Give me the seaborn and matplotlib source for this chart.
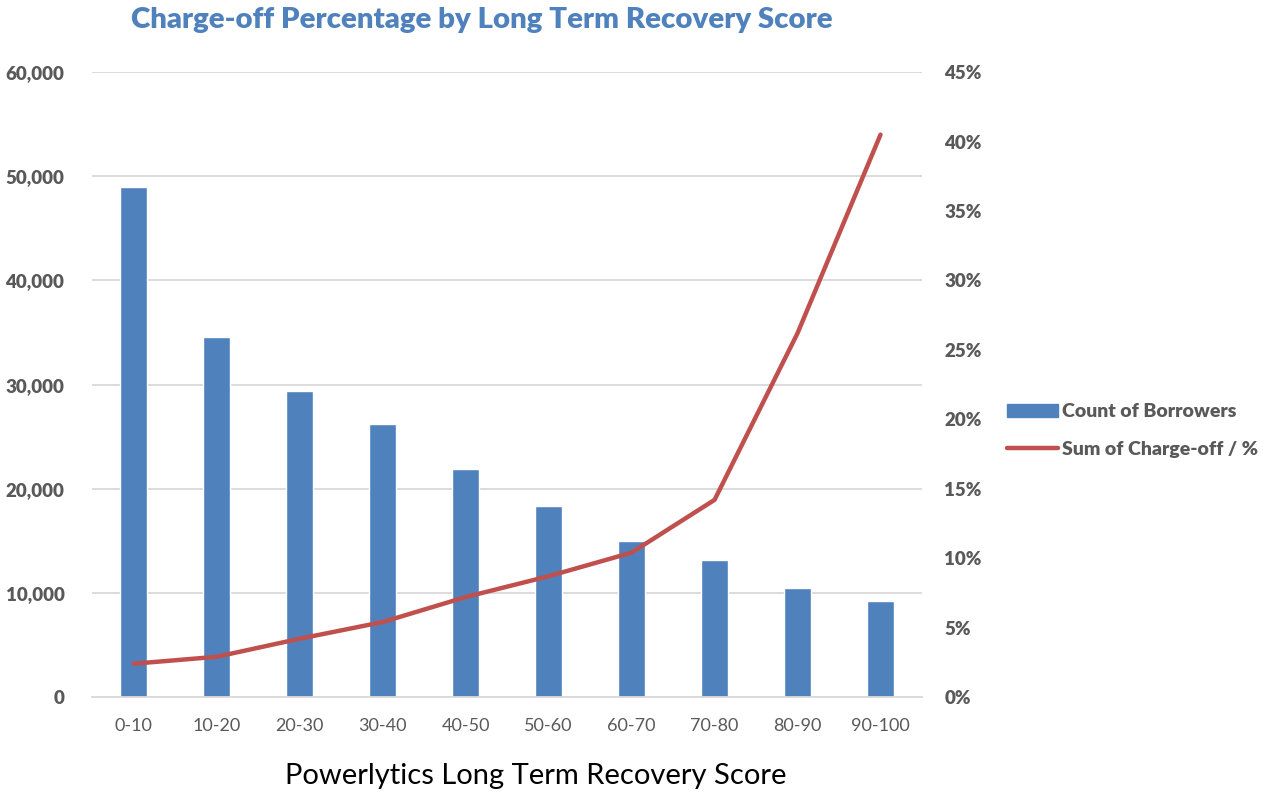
import numpy as np
import pandas as pd
import matplotlib
matplotlib.use("Agg")
import matplotlib.pyplot as plt
import seaborn as sns
from matplotlib.ticker import FuncFormatter, FixedLocator
from matplotlib.patches import Patch
from matplotlib.lines import Line2D

categories = ["0-10", "10-20", "20-30", "30-40", "40-50", "50-60", "60-70", "70-80", "80-90", "90-100"]
borrowers = [49000, 34600, 29400, 26200, 21900, 18300, 15000, 13200, 10500, 9200]
chargeoff_pct = [2.4, 2.9, 4.2, 5.4, 7.2, 8.7, 10.4, 14.2, 26.2, 40.5]
left_ticks = [0, 10000, 20000, 30000, 40000, 50000, 60000]
right_ticks = [0, 5, 10, 15, 20, 25, 30, 35, 40, 45]

sns.set_theme(style="white")
plt.rcParams['font.family'] = ['Lato', 'DejaVu Sans']

BLUE = "#4F81BD"
RED = "#C0504D"
GREY = "#595959"

fig = plt.figure(figsize=(12.63, 7.93), dpi=100)
ax = fig.add_axes([0.073, 0.121, 0.657, 0.788])

df = pd.DataFrame({"cat": categories, "count": borrowers, "pct": chargeoff_pct})
sns.barplot(data=df, x="cat", y="count", color=BLUE, saturation=1, width=0.33, ax=ax, zorder=2)
ax.set_ylim(0, 60000)
ax.set_xlim(-0.5, len(categories) - 0.5)
ax.yaxis.set_major_locator(FixedLocator(left_ticks))
ax.yaxis.set_major_formatter(FuncFormatter(lambda v, p: f"{int(v):,}"))
ax.grid(axis="y", color="#D9D9D9", linewidth=1.3, zorder=0)
ax.set_axisbelow(True)
for s in ["top", "right", "left"]:
    ax.spines[s].set_visible(False)
ax.spines["bottom"].set_color("#D9D9D9")
ax.spines["bottom"].set_linewidth(1.3)
ax.tick_params(axis="y", length=0, pad=20, labelsize=13.5, labelcolor=GREY)
ax.tick_params(axis="x", length=0, pad=15, labelsize=13, labelcolor=GREY)
for t in ax.get_yticklabels():
    t.set_fontweight("heavy")
ax.set_ylabel("")
ax.set_xlabel("")
fig.text(536 / 1263, 1 - 776 / 793, "Powerlytics Long Term Recovery Score", ha="center", va="center",
         fontsize=21, color="black")

ax2 = ax.twinx()
sns.lineplot(x=np.arange(len(categories)), y=chargeoff_pct, color=RED, linewidth=3.2, ax=ax2,
             solid_capstyle="round", solid_joinstyle="round")
ax2.set_ylim(0, 45)
ax2.yaxis.set_major_locator(FixedLocator(right_ticks))
ax2.yaxis.set_major_formatter(FuncFormatter(lambda v, p: f"{int(round(v))}%"))
for s in ["top", "right", "left", "bottom"]:
    ax2.spines[s].set_visible(False)
ax2.tick_params(axis="y", length=0, pad=16, labelsize=13.5, labelcolor=GREY)
for t in ax2.get_yticklabels():
    t.set_fontweight("heavy")
ax2.set_ylabel("")
ax2.grid(False)

fig.text(482 / 1263, 1 - 20 / 793, "Charge-off Percentage by Long Term Recovery Score", ha="center", va="center",
         fontsize=21.2, fontweight="heavy", color=BLUE)

handles = [Patch(facecolor=BLUE, edgecolor=BLUE),
           Line2D([0], [0], color=RED, linewidth=3.2, solid_capstyle="round")]
fig.legend(handles, ["Count of Borrowers", "Sum of Charge-off / %"], loc="center left",
           bbox_to_anchor=(0.7835, 0.457), frameon=False, handlelength=2.6,
           handletextpad=0.2, labelspacing=1.05, prop={"weight": "heavy", "size": 14},
           labelcolor=GREY)

fig.savefig("out.png", dpi=100)
